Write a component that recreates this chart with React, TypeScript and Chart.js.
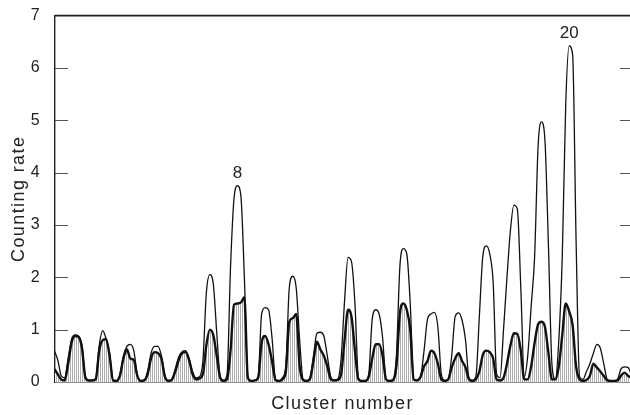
import React, { useEffect, useRef } from "react";
import { Chart, registerables } from "chart.js";

Chart.register(...registerables);

// Cluster centres (cluster number) and the sampling offsets read within each cluster
const clusterNumbers = [2, 3, 4, 5, 6, 7, 8, 9, 10, 11, 12, 13, 14, 15, 16, 17, 18, 19, 20, 21, 22];
const sampleOffsets = [-0.5, -0.375, -0.25, -0.125, 0, 0.125, 0.25, 0.375];
const leadingX = 1.375;

// Thin line: total counting rate (leading point, then 8 readings per cluster)
const totalLead = 0.6;
const totalRate = [
  0.42, 0.12, 0.08, 0.45, 0.82, 0.9, 0.88, 0.7, // 2
  0.1, 0.03, 0.03, 0.08, 0.7, 0.98, 0.82, 0.55, // 3
  0.03, 0.02, 0.15, 0.5, 0.68, 0.72, 0.6, 0.15, // 4
  0.02, 0.03, 0.2, 0.55, 0.68, 0.68, 0.5, 0.12, // 5
  0.03, 0.05, 0.25, 0.48, 0.58, 0.6, 0.45, 0.2, // 6
  0.08, 0.1, 0.4, 1.7, 2.05, 1.88, 0.95, 0.1, // 7
  0.03, 0.15, 2.2, 3.5, 3.75, 3.55, 2.0, 0.1, // 8
  0.02, 0.03, 0.1, 1.3, 1.42, 1.38, 0.85, 0.05, // 9
  0.02, 0.08, 0.3, 1.8, 2.02, 1.8, 0.8, 0.05, // 10
  0.02, 0.08, 0.5, 0.93, 0.95, 0.88, 0.5, 0.1, // 11
  0.03, 0.05, 0.45, 1.55, 2.38, 2.3, 1.5, 0.08, // 12
  0.02, 0.02, 0.15, 1.2, 1.38, 1.3, 0.85, 0.05, // 13
  0.02, 0.05, 0.5, 2.2, 2.55, 2.45, 1.5, 0.05, // 14
  0.03, 0.1, 0.6, 1.2, 1.3, 1.33, 1.05, 0.15, // 15
  0.03, 0.05, 0.5, 1.25, 1.32, 1.18, 0.8, 0.08, // 16
  0.03, 0.1, 1.25, 2.4, 2.6, 2.45, 1.9, 0.15, // 17
  0.08, 1.0, 2.0, 2.9, 3.38, 3.3, 1.8, 0.1, // 18
  0.5, 1.45, 2.4, 4.5, 4.97, 4.6, 2.6, 0.35, // 19
  0.05, 0.8, 2.4, 5.3, 6.42, 6.25, 2.7, 0.1, // 20
  0.05, 0.2, 0.35, 0.55, 0.72, 0.65, 0.35, 0.05, // 21
  0.02, 0.02, 0.05, 0.25, 0.29, 0.28, 0.15, 0.05, // 22
];

// Thick line with hatched fill: bound fraction
const boundLead = 0.25;
const boundRate = [
  0.15, 0.05, 0.03, 0.35, 0.75, 0.88, 0.86, 0.65, // 2
  0.08, 0.03, 0.03, 0.05, 0.6, 0.8, 0.82, 0.5, // 3
  0.03, 0.02, 0.12, 0.45, 0.62, 0.45, 0.42, 0.12, // 4
  0.02, 0.03, 0.15, 0.45, 0.57, 0.55, 0.45, 0.1, // 5
  0.02, 0.04, 0.2, 0.42, 0.55, 0.57, 0.42, 0.15, // 6
  0.05, 0.07, 0.15, 0.7, 1.0, 0.9, 0.5, 0.08, // 7
  0.02, 0.05, 0.6, 1.48, 1.5, 1.52, 1.62, 0.08, // 8
  0.02, 0.03, 0.08, 0.75, 0.88, 0.72, 0.4, 0.04, // 9
  0.02, 0.05, 0.2, 1.15, 1.22, 1.3, 0.3, 0.04, // 10
  0.02, 0.06, 0.4, 0.77, 0.62, 0.5, 0.3, 0.05, // 11
  0.03, 0.04, 0.15, 0.8, 1.38, 1.25, 0.6, 0.05, // 12
  0.02, 0.02, 0.1, 0.45, 0.72, 0.72, 0.5, 0.05, // 13
  0.02, 0.03, 0.3, 1.3, 1.5, 1.38, 1.0, 0.05, // 14
  0.03, 0.1, 0.3, 0.4, 0.6, 0.55, 0.35, 0.05, // 15
  0.02, 0.05, 0.28, 0.45, 0.55, 0.4, 0.28, 0.05, // 16
  0.02, 0.05, 0.2, 0.52, 0.6, 0.57, 0.45, 0.05, // 17
  0.03, 0.08, 0.35, 0.7, 0.93, 0.92, 0.6, 0.05, // 18
  0.05, 0.3, 0.75, 1.1, 1.15, 1.05, 0.55, 0.05, // 19
  0.05, 0.3, 0.9, 1.5, 1.35, 1.08, 0.3, 0.05, // 20
  0.02, 0.04, 0.12, 0.35, 0.28, 0.2, 0.12, 0.03, // 21
  0.02, 0.02, 0.03, 0.12, 0.18, 0.12, 0.08, 0.03, // 22
];

const yTickValues = [0, 1, 2, 3, 4, 5, 6, 7];
const peakLabels = [
  { cluster: 8, text: "8" },
  { cluster: 20, text: "20" },
];

const FONT = "'Liberation Sans', Arial, Helvetica, sans-serif";

function buildX(): number[] {
  const xs: number[] = [leadingX];
  clusterNumbers.forEach((c) => sampleOffsets.forEach((o) => xs.push(c + o)));
  return xs;
}

function makePattern(): CanvasPattern | string {
  const pc = document.createElement("canvas");
  pc.width = 2;
  pc.height = 1;
  const p = pc.getContext("2d");
  if (!p) return "#ddd";
  p.fillStyle = "#ffffff";
  p.fillRect(0, 0, 2, 1);
  p.fillStyle = "rgba(0,0,0,0.32)";
  p.fillRect(0, 0, 1, 1);
  const pat = p.createPattern(pc, "repeat");
  return pat || "#ddd";
}

const framePlugin = {
  id: "frameAndLabels",
  beforeDraw(chart: any) {
    // the printed lettering is slightly spaced
    (chart.ctx as any).letterSpacing = "1.4px";
  },
  afterDraw(chart: any) {
    const { ctx, chartArea, scales } = chart;
    const xs = scales.x;
    const ys = scales.y;
    ctx.save();
    (ctx as any).letterSpacing = "0px";
    // top frame line
    ctx.strokeStyle = "#222";
    ctx.lineWidth = 1.6;
    ctx.beginPath();
    ctx.moveTo(chartArea.left, chartArea.top);
    ctx.lineTo(chartArea.right, chartArea.top);
    ctx.stroke();
    // inner ticks on both sides
    ctx.strokeStyle = "#555";
    ctx.lineWidth = 1;
    yTickValues.forEach((v) => {
      if (v === 0 || v === 7) return;
      const py = Math.round(ys.getPixelForValue(v)) + 0.5;
      ctx.beginPath();
      ctx.moveTo(chartArea.left, py);
      ctx.lineTo(chartArea.left + 13, py);
      ctx.moveTo(chartArea.right - 10, py);
      ctx.lineTo(chartArea.right, py);
      ctx.stroke();
    });
    // peak labels
    const xVals = buildX();
    const allTotal = [totalLead, ...totalRate];
    ctx.fillStyle = "#222";
    ctx.font = `17px ${FONT}`;
    ctx.textAlign = "center";
    ctx.textBaseline = "middle";
    peakLabels.forEach((pl) => {
      let peak = 0;
      xVals.forEach((xv, i) => {
        if (Math.abs(xv - pl.cluster) <= 0.5 && allTotal[i] > peak) peak = allTotal[i];
      });
      const px = xs.getPixelForValue(pl.cluster);
      const py = ys.getPixelForValue(peak) - 12.5;
      ctx.fillText(pl.text, px, py);
    });
    ctx.restore();
  },
};

export default function App() {
  const ref = useRef<HTMLCanvasElement | null>(null);

  useEffect(() => {
    if (!ref.current) return;
    const xVals = buildX();
    const total = [totalLead, ...totalRate].map((v, i) => ({ x: xVals[i], y: v }));
    const bound = [boundLead, ...boundRate].map((v, i) => ({ x: xVals[i], y: v }));
    const pattern = makePattern();

    const chart = new Chart(ref.current, {
      type: "line",
      data: {
        datasets: [
          {
            label: "Total",
            data: total,
            borderColor: "#111",
            borderWidth: 1.3,
            pointRadius: 0,
            fill: false,
            cubicInterpolationMode: "monotone",
          },
          {
            label: "Bound",
            data: bound,
            borderColor: "#111",
            borderWidth: 2.4,
            pointRadius: 0,
            fill: "origin",
            backgroundColor: pattern as any,
            cubicInterpolationMode: "monotone",
          },
        ],
      },
      options: {
        animation: false,
        responsive: false,
        events: [],
        layout: { padding: { left: 0, right: 0, top: 15, bottom: 0 } },
        plugins: {
          legend: { display: false },
          tooltip: { enabled: false },
        },
        scales: {
          x: {
            type: "linear",
            min: 1.4,
            max: 22.2,
            grid: { display: false },
            border: { display: true, color: "#222", width: 1.6 },
            ticks: { display: false },
            title: {
              display: true,
              text: "Cluster number",
              color: "#222",
              font: { family: FONT, size: 18 },
              padding: { top: 0, bottom: 0 },
            },
            afterFit(scale: any) {
              scale.height = 33;
            },
          },
          y: {
            type: "linear",
            min: 0,
            max: 7,
            grid: { display: false },
            border: { display: true, color: "#222", width: 1.4 },
            afterBuildTicks(scale: any) {
              scale.ticks = yTickValues.map((v) => ({ value: v }));
            },
            ticks: {
              color: "#222",
              font: { family: FONT, size: 16 },
              padding: 6,
            },
            title: {
              display: true,
              text: "Counting rate",
              color: "#222",
              font: { family: FONT, size: 18 },
              padding: { top: 8, bottom: 0 },
            },
            afterFit(scale: any) {
              scale.width = 55;
            },
          },
        },
      },
      plugins: [framePlugin],
    });
    return () => chart.destroy();
  }, []);

  return (
    <div style={{ position: "fixed", left: 0, top: 0, width: 630, height: 415, background: "#fff" }}>
      <canvas ref={ref} width={630} height={415} style={{ display: "block" }} />
    </div>
  );
}
